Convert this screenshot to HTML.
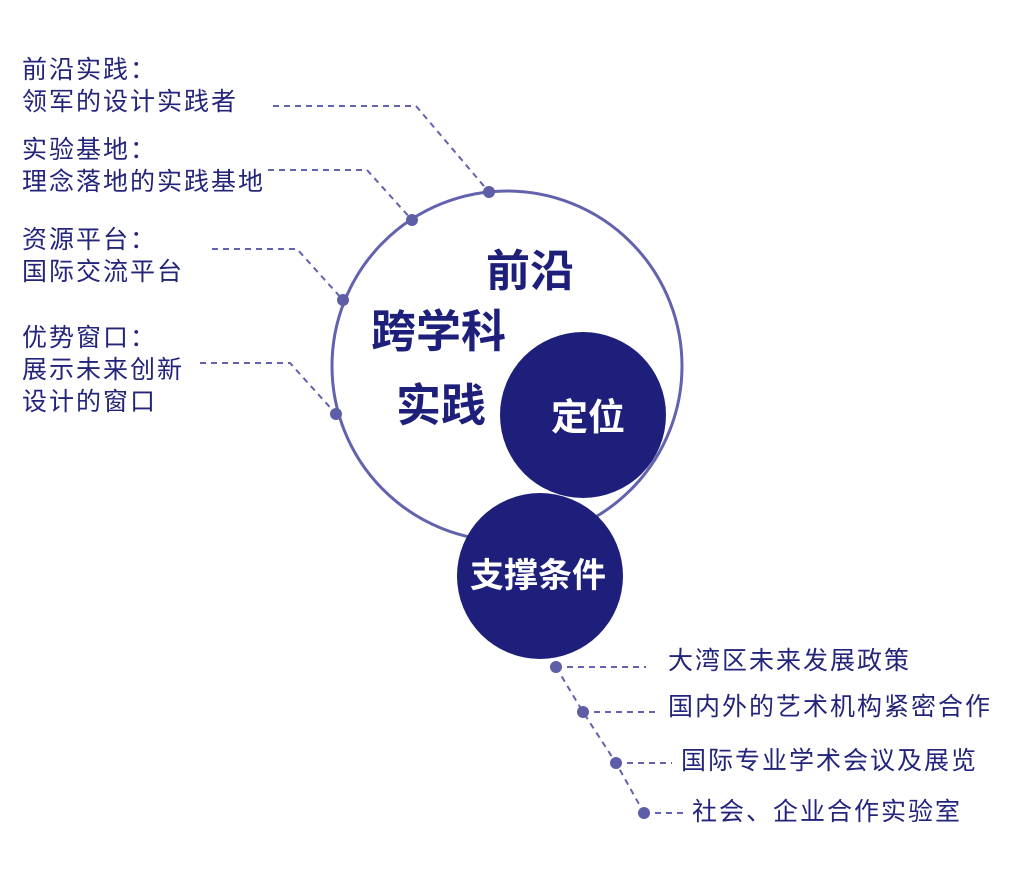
<!DOCTYPE html>
<html><head><meta charset="utf-8"><style>
body{margin:0;width:1011px;height:878px;background:#fff;overflow:hidden;font-family:"Liberation Sans","Noto Sans CJK SC",sans-serif}
.t{position:absolute;color:#23247a;font-size:25px;line-height:32px;letter-spacing:2px;white-space:nowrap}
.b{position:absolute;font-weight:bold;white-space:nowrap;color:#1e1f7a}
</style></head><body>
<svg width="1011" height="878" style="position:absolute;left:0;top:0">
<g fill="none" stroke="#6262ae" stroke-width="2" stroke-dasharray="6,5">
<polyline points="273,106 416,106 489,192"/>
<polyline points="268,170 367,170 412,220"/>
<polyline points="212,249 297,249 343,300"/>
<polyline points="200,363 290,363 336,414"/>
<polyline points="556,667 583,712 616,763 644,813"/>
<line x1="556" y1="667" x2="646" y2="667"/>
<line x1="583" y1="712" x2="655" y2="712"/>
<line x1="616" y1="763" x2="672" y2="763"/>
<line x1="644" y1="813" x2="688" y2="813"/>
</g>
<circle cx="507" cy="366" r="175" fill="none" stroke="#6262ae" stroke-width="3"/>
<circle cx="583" cy="415" r="83" fill="#1e1f7a"/>
<circle cx="540" cy="576" r="83" fill="#1e1f7a"/>
<g fill="#5e5ea8">
<circle cx="489" cy="192" r="6"/><circle cx="412" cy="220" r="6"/><circle cx="343" cy="300" r="6"/><circle cx="336" cy="414" r="6"/>
<circle cx="556" cy="667" r="6"/><circle cx="583" cy="712" r="6"/><circle cx="616" cy="763" r="6"/><circle cx="644" cy="813" r="6"/>
</g>
</svg>
<div class="t" style="left:22px;top:54px">前沿实践：<br>领军的设计实践者</div>
<div class="t" style="left:22px;top:134px">实验基地：<br>理念落地的实践基地</div>
<div class="t" style="left:22px;top:224px">资源平台：<br>国际交流平台</div>
<div class="t" style="left:22px;top:322px">优势窗口：<br>展示未来创新<br>设计的窗口</div>
<div class="t" style="left:668px;top:645px">大湾区未来发展政策</div>
<div class="t" style="left:668px;top:691px">国内外的艺术机构紧密合作</div>
<div class="t" style="left:681px;top:745px">国际专业学术会议及展览</div>
<div class="t" style="left:692px;top:796px">社会、企业合作实验室</div>
<div class="b" style="left:486px;top:244px;font-size:44px;line-height:56px">前沿</div>
<div class="b" style="left:371px;top:304px;font-size:45px;line-height:56px">跨学科</div>
<div class="b" style="left:396px;top:378px;font-size:45px;line-height:56px">实践</div>
<div class="b" style="left:551px;top:394px;font-size:37px;line-height:48px;color:#fff">定位</div>
<div class="b" style="left:470px;top:553px;font-size:34px;line-height:46px;color:#fff">支撑条件</div>
</body></html>
